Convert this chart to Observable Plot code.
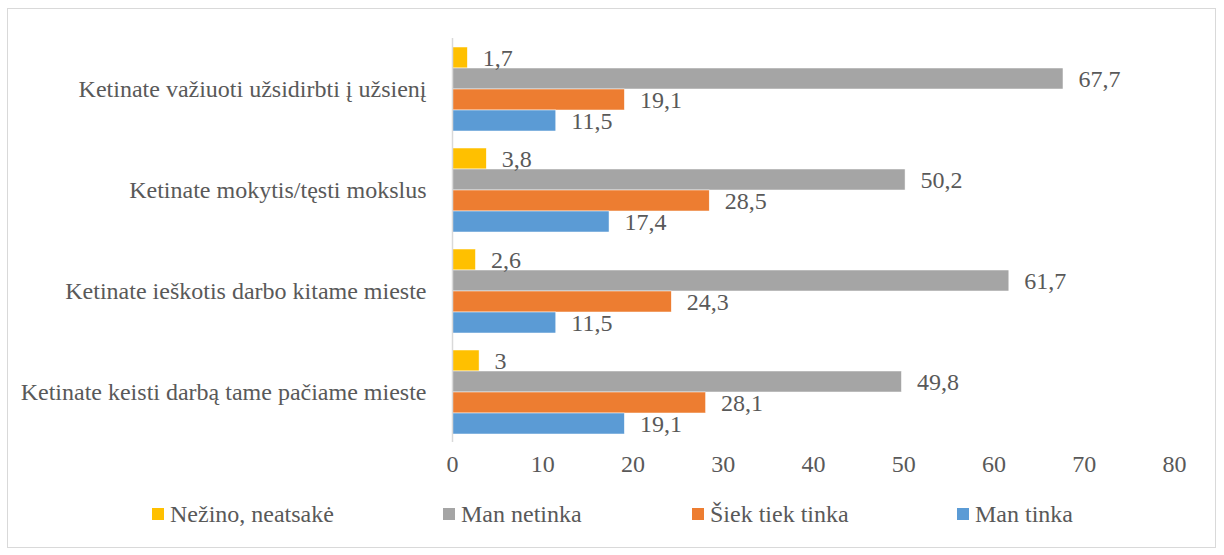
<!DOCTYPE html>
<html>
<head>
<meta charset="utf-8">
<script src="https://cdn.jsdelivr.net/npm/d3@7"></script>
<script src="https://cdn.jsdelivr.net/npm/@observablehq/plot@0.6"></script>
<style>
  html, body { margin: 0; padding: 0; background: #fff; }
  #wrap { position: relative; width: 1224px; height: 555px; font-family: "Liberation Serif", "DejaVu Serif", serif; color: #595959; }
  #frame { position: absolute; left: 7px; top: 8px; width: 1209px; height: 540px; border: 1px solid #d9d9d9; box-sizing: border-box; }
  #chart { position: absolute; left: 0; top: 0; }
  #chart svg, #chart text { font-family: "Liberation Serif", "DejaVu Serif", serif !important; }
  .leg { position: absolute; top: 500px; font-size: 24px; line-height: 28px; white-space: nowrap; display: flex; align-items: center; }
  .sw { width: 12px; height: 12px; margin-right: 6px; display: inline-block; }
</style>
</head>
<body>
<div id="wrap">
  <div id="frame"></div>
  <div id="chart"></div>
  <div id="legend"></div>
</div>
<script>
const categories = [
  "Ketinate važiuoti užsidirbti į užsienį",
  "Ketinate mokytis/tęsti mokslus",
  "Ketinate ieškotis darbo kitame mieste",
  "Ketinate keisti darbą tame pačiame mieste"
];
const series = ["Nežino, neatsakė", "Man netinka", "Šiek tiek tinka", "Man tinka"];
const colors = ["#FFC000", "#A5A5A5", "#ED7D31", "#5B9BD5"];
const nezino = [1.7, 3.8, 2.6, 3];
const netinka = [67.7, 50.2, 61.7, 49.8];
const siekTiek = [19.1, 28.5, 24.3, 28.1];
const tinka = [11.5, 17.4, 11.5, 19.1];
const xTicks = [0, 10, 20, 30, 40, 50, 60, 70, 80];

const seriesValues = [nezino, netinka, siekTiek, tinka];
const data = [];
categories.forEach((c, i) => {
  series.forEach((s, j) => {
    data.push({category: c, series: s, value: seriesValues[j][i]});
  });
});
const fmt = v => String(v).replace(".", ",");

const chart = Plot.plot({
  width: 1224,
  height: 495,
  marginLeft: 452,
  marginRight: 50,
  marginTop: 37,
  marginBottom: 52,
  style: {fontSize: "24px", fontFamily: "Liberation Serif, DejaVu Serif, serif", color: "#595959", background: "transparent"},
  x: {domain: [0, 80], ticks: xTicks, tickSize: 0, tickPadding: 20, label: null, tickFormat: d => String(d)},
  fy: {domain: categories, paddingInner: 0.155, paddingOuter: 0.077, label: null, axis: "left", tickSize: 0, tickPadding: 26},
  y: {domain: series, padding: 0, axis: null},
  color: {domain: series, range: colors},
  marks: [
    Plot.barX(data, {x: "value", y: "series", fy: "category", fill: "series", stroke: "white", strokeWidth: 0.5}),
    Plot.ruleX([0], {stroke: "#d9d9d9", strokeWidth: 1.5, insetTop: -8, insetBottom: -8}),
    Plot.text(data, {x: "value", y: "series", fy: "category", text: d => fmt(d.value), textAnchor: "start", dx: 15, fill: "#595959"})
  ]
});
document.getElementById("chart").appendChild(chart);

const legendLefts = [152, 443, 692, 957];
const legend = document.getElementById("legend");
series.forEach((s, j) => {
  const item = document.createElement("div");
  item.className = "leg";
  item.style.left = legendLefts[j] + "px";
  const sw = document.createElement("span");
  sw.className = "sw";
  sw.style.background = colors[j];
  item.appendChild(sw);
  item.appendChild(document.createTextNode(s));
  legend.appendChild(item);
});
</script>
</body>
</html>
